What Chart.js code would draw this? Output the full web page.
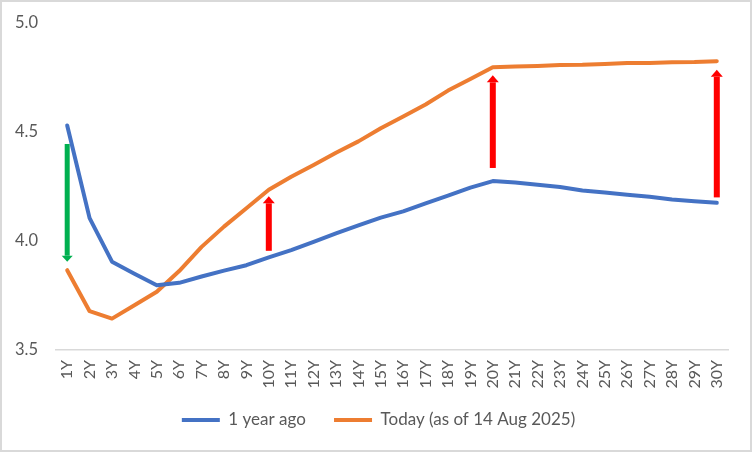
<!DOCTYPE html>
<html>
<head>
<meta charset="utf-8">
<script src="https://cdn.jsdelivr.net/npm/chart.js@4.4.1/dist/chart.umd.min.js"></script>
<style>
  html, body { margin: 0; padding: 0; background: #fff; }
  #wrap { width: 752px; height: 452px; }
</style>
</head>
<body>
<div id="wrap"><canvas id="c" width="752" height="452"></canvas></div>
<script>
// ---- data ----
const tenors = ['1Y','2Y','3Y','4Y','5Y','6Y','7Y','8Y','9Y','10Y','11Y','12Y','13Y','14Y','15Y',
                '16Y','17Y','18Y','19Y','20Y','21Y','22Y','23Y','24Y','25Y','26Y','27Y','28Y','29Y','30Y'];
const yearAgo = [4.53, 4.105, 3.905, 3.85, 3.797, 3.808, 3.837, 3.864, 3.889, 3.925,
                 3.958, 3.996, 4.035, 4.072, 4.107, 4.136, 4.173, 4.208, 4.245, 4.275,
                 4.268, 4.258, 4.248, 4.232, 4.222, 4.212, 4.203, 4.19, 4.182, 4.175];
const today   = [3.866, 3.678, 3.644, 3.705, 3.767, 3.862, 3.973, 4.066, 4.15, 4.235,
                 4.295, 4.349, 4.405, 4.457, 4.517, 4.571, 4.626, 4.69, 4.743, 4.797,
                 4.801, 4.803, 4.807, 4.808, 4.812, 4.816, 4.817, 4.82, 4.821, 4.825];
const seriesNames = ['1 year ago', 'Today (as of 14 Aug 2025)'];
const yTickValues = [3.5, 4.0, 4.5, 5.0];
// annotation arrows (category, start value, end value)
const arrowTenors = ['1Y', '10Y', '20Y', '30Y'];
const arrowFrom   = [4.445, 3.955, 4.335, 4.20];
const arrowTo     = [3.905, 4.205, 4.76, 4.785];

const FONT = 'Lato, "Open Sans", sans-serif';
const TXT = '#595959';

const frame = {
  id: 'frame',
  beforeDraw(chart) {
    const ctx = chart.ctx;
    ctx.save();
    ctx.fillStyle = '#fff';
    ctx.fillRect(0, 0, chart.width, chart.height);
    ctx.strokeStyle = '#d9d9d9';
    ctx.lineWidth = 2;
    ctx.strokeRect(1, 1, chart.width - 2, chart.height - 2);
    ctx.restore();
  }
};

const arrows = {
  id: 'arrows',
  afterDatasetsDraw(chart) {
    const ctx = chart.ctx;
    const xs = chart.scales.x, ys = chart.scales.y;
    ctx.save();
    arrowTenors.forEach((t, i) => {
      const x = xs.getPixelForValue(tenors.indexOf(t));
      const y0 = ys.getPixelForValue(arrowFrom[i]);
      const y1 = ys.getPixelForValue(arrowTo[i]);
      const down = y1 > y0;
      const color = down ? '#00B050' : '#FF0000';
      const sw = down ? 5 : 6;
      const hw = down ? 11 : 12;
      const hh = down ? 6 : 7;
      const dir = down ? 1 : -1;
      const baseY = y1 - dir * hh;
      ctx.fillStyle = color;
      ctx.fillRect(x - sw / 2, Math.min(y0, baseY), sw, Math.abs(baseY - y0));
      ctx.beginPath();
      ctx.moveTo(x - hw / 2, baseY);
      ctx.lineTo(x + hw / 2, baseY);
      ctx.lineTo(x, y1);
      ctx.closePath();
      ctx.fill();
    });
    ctx.restore();
  }
};

new Chart(document.getElementById('c'), {
  type: 'line',
  data: {
    labels: tenors,
    datasets: [
      { label: seriesNames[0], data: yearAgo, borderColor: '#4472C4', backgroundColor: '#4472C4',
        borderWidth: 4, pointRadius: 0, tension: 0, borderJoinStyle: 'round', borderCapStyle: 'round' },
      { label: seriesNames[1], data: today, borderColor: '#ED7D31', backgroundColor: '#ED7D31',
        borderWidth: 4, pointRadius: 0, tension: 0, borderJoinStyle: 'round', borderCapStyle: 'round' }
    ]
  },
  options: {
    responsive: false,
    animation: false,
    devicePixelRatio: 1,
    layout: { padding: { top: 23, right: 5, left: 10, bottom: 13.5 } },
    plugins: {
      tooltip: { enabled: false },
      legend: {
        position: 'bottom',
        labels: {
          usePointStyle: true,
          pointStyle: 'line',
          pointStyleWidth: 38,
          padding: 19.5,
          color: TXT,
          font: { family: FONT, size: 17 },
          generateLabels(chart) {
            const items = Chart.defaults.plugins.legend.labels.generateLabels(chart);
            items.forEach((it, i) => { if (i < items.length - 1) it.text = it.text + '  '; });
            return items;
          }
        }
      }
    },
    scales: {
      x: {
        offset: true,
        grid: { display: false, drawTicks: false },
        border: { display: true, color: '#d9d9d9', width: 1.5 },
        ticks: { color: TXT, font: { family: FONT, size: 16 }, minRotation: 90, maxRotation: 90,
                 autoSkip: false, padding: 10 },
        afterFit(s) { s.height = 42; }
      },
      y: {
        min: 3.5, max: 5.0,
        grid: { display: false, drawTicks: false },
        border: { display: false },
        afterBuildTicks(s) { s.ticks = yTickValues.map(v => ({ value: v })); },
        ticks: { color: TXT, font: { family: FONT, size: 16.5, lineHeight: 0.5 }, padding: 18,
                 callback: v => Number(v).toFixed(1) },
        afterFit(s) { s.width = 46; }
      },
      yRight: {
        position: 'right',
        display: true,
        grid: { display: false, drawTicks: false },
        border: { display: false },
        ticks: { display: false },
        afterFit(s) { s.width = 19; }
      }
    }
  },
  plugins: [frame, arrows]
});
</script>
</body>
</html>
